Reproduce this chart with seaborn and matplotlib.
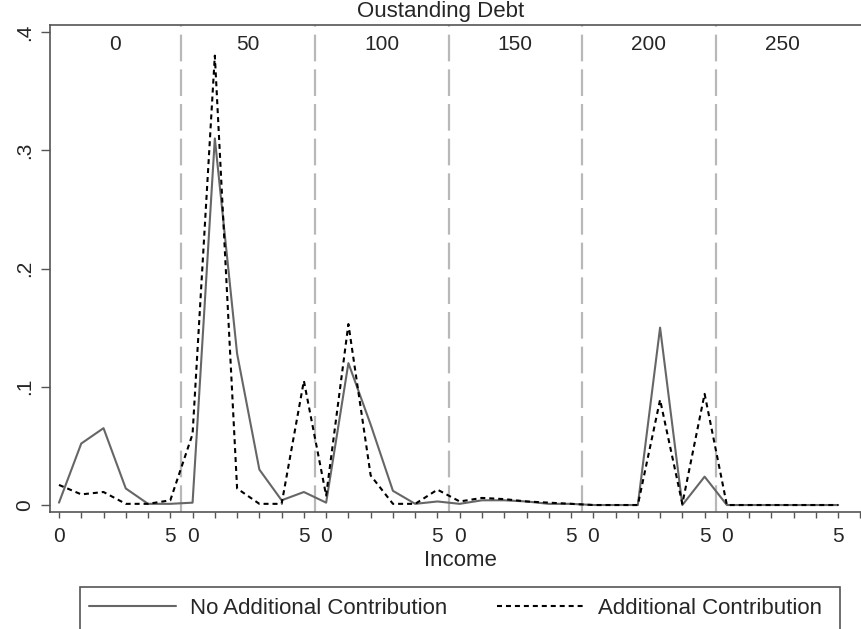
import matplotlib
matplotlib.use("Agg")
import matplotlib.pyplot as plt
from matplotlib.patches import Rectangle
from matplotlib.lines import Line2D
import seaborn as sns
import pandas as pd

# income bins 0..5 within each debt group, groups laid side by side
debt_groups = ["0", "50", "100", "150", "200", "250"]
income_steps = [0, 1, 2, 3, 4, 5]

no_additional = [0.002, 0.052, 0.065, 0.014, 0.001, 0.001,
                 0.002, 0.310, 0.128, 0.030, 0.004, 0.011,
                 0.002, 0.120, 0.068, 0.012, 0.001, 0.003,
                 0.001, 0.004, 0.004, 0.003, 0.001, 0.001,
                 0.000, 0.000, 0.000, 0.150, 0.000, 0.024,
                 0.000, 0.000, 0.000, 0.000, 0.000, 0.000]

additional = [0.017, 0.009, 0.011, 0.001, 0.001, 0.004,
              0.060, 0.380, 0.014, 0.001, 0.001, 0.105,
              0.008, 0.153, 0.025, 0.001, 0.001, 0.013,
              0.003, 0.006, 0.005, 0.003, 0.002, 0.001,
              0.000, 0.000, 0.000, 0.089, 0.001, 0.094,
              0.000, 0.000, 0.000, 0.000, 0.000, 0.000]

n_inc = len(income_steps)
pos = [g * n_inc + i for g in range(len(debt_groups)) for i in income_steps]
df = pd.DataFrame({"pos": pos, "none": no_additional, "add": additional})

sns.set_style("white")
plt.rcParams["font.family"] = ["Liberation Sans", "DejaVu Sans"]

W, H = 862, 629
fig = plt.figure(figsize=(W / 100, H / 100), dpi=100)
ax = fig.add_axes([50 / W, 1 - 512 / H, 1 - 50 / W, (512 - 25) / H])

sns.lineplot(data=df, x="pos", y="none", ax=ax, color="#666666", lw=1.5)
sns.lineplot(data=df, x="pos", y="add", ax=ax, color="black", lw=1.5,
             linestyle=(0, (2.4, 1.9)))

for g in range(1, len(debt_groups)):
    ax.axvline(g * n_inc - 0.5, color="#b8b8b8", lw=1.6,
               linestyle=(0, (12, 3.6)), zorder=0)

for g, lab in enumerate(debt_groups):
    ax.text(g * n_inc + 2.5, 0.389, lab, ha="center", va="center", fontsize=15)

ax.set_xlim(-0.404, 36.07)
ax.set_ylim(-0.0059, 0.4059)

ticks = list(range(0, 37))
ax.set_xticks(ticks)
ax.set_xticklabels(["0" if (t % 6 == 0 and t < 36) else ("5" if t % 6 == 5 else "")
                    for t in ticks], fontsize=15)
ax.set_yticks([0, 0.1, 0.2, 0.3, 0.4])
ax.set_yticklabels(["0", ".1", ".2", ".3", ".4"], fontsize=15, rotation=90, va="center")

ax.tick_params(axis="x", direction="out", length=4, width=1, color="#555555", pad=7,
               bottom=True)
ax.tick_params(axis="y", direction="out", length=6.5, width=1, color="#555555", pad=5,
               left=True)
ax.set_xlabel("")
ax.set_ylabel("")

for s in ["left", "bottom", "top"]:
    ax.spines[s].set_color("#555555")
    ax.spines[s].set_linewidth(1.2)
ax.spines["right"].set_visible(False)

fig.text(441 / W, 1 - 12 / H, "Oustanding Debt", ha="center", va="center", fontsize=16)
fig.text(460 / W, 1 - 561 / H, "Income", ha="center", va="center", fontsize=16)

# legend box at the bottom
fig.patches.append(Rectangle((80 / W, -0.05), 760 / W, 0.05 + (H - 587) / H,
                             transform=fig.transFigure, fill=False,
                             edgecolor="#555555", lw=1.2))
handles = [Line2D([], [], color="#666666", lw=1.5),
           Line2D([], [], color="black", lw=1.5, linestyle=(0, (2.4, 1.9)))]
fig.legend(handles, ["No Additional Contribution", "Additional Contribution"],
           loc="center left", bbox_to_anchor=(89 / W, 1 - 608 / H), ncol=2,
           frameon=False, fontsize=16, handlelength=3.9, handletextpad=0.63,
           columnspacing=2.25, borderpad=0, borderaxespad=0)

fig.savefig("out.png", dpi=100)
